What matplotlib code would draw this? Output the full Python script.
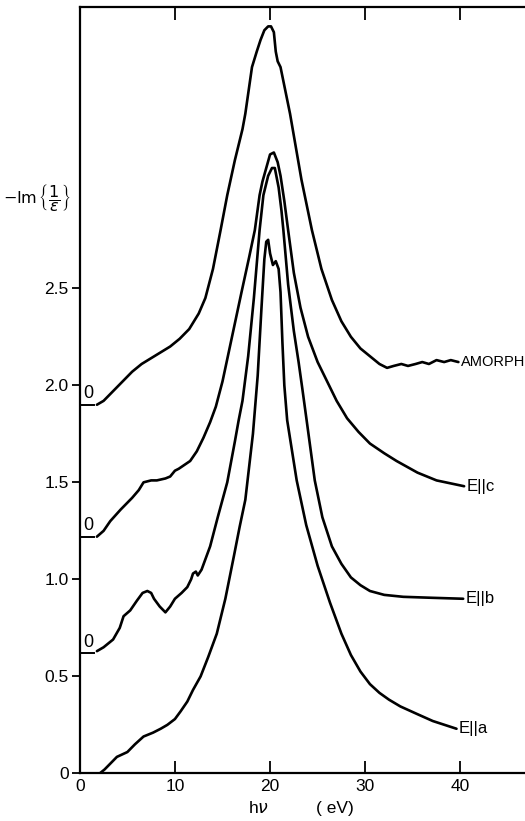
import numpy as np
import matplotlib
matplotlib.use("Agg")
import matplotlib.pyplot as plt

plt.rcParams['font.family'] = ['Liberation Sans', 'DejaVu Sans']
plt.rcParams['mathtext.fontset'] = 'dejavusans'

# curves: photon energy (eV) vs -Im(1/eps), offset curves
amorph_x = [1.8, 2.5, 3.5, 4.5, 5.5, 6.5, 7.5, 8.5, 9.5, 10.5, 11.5, 12.5, 13.2, 14.0, 14.8,
            15.5, 16.3, 17.1, 17.4, 18.1, 18.6, 19.0, 19.4, 19.8, 20.1, 20.4, 20.6, 20.8, 21.1,
            21.6, 22.1, 23.3, 24.4, 25.4, 26.5, 27.5, 28.5, 29.5, 30.5, 31.5, 32.3, 33.0, 33.8,
            34.5, 35.3, 36.0, 36.7, 37.5, 38.3, 39.0, 39.8]
amorph_y = [1.90, 1.92, 1.97, 2.02, 2.07, 2.11, 2.14, 2.17, 2.20, 2.24, 2.29, 2.37, 2.45, 2.60, 2.80,
            2.98, 3.16, 3.32, 3.40, 3.64, 3.72, 3.78, 3.83, 3.85, 3.85, 3.82, 3.72, 3.67, 3.64,
            3.52, 3.40, 3.06, 2.80, 2.60, 2.44, 2.33, 2.25, 2.19, 2.15, 2.11, 2.09, 2.10, 2.11,
            2.10, 2.11, 2.12, 2.11, 2.13, 2.12, 2.13, 2.12]

ellc_x = [1.8, 2.5, 3.2, 4.3, 5.5, 6.2, 6.7, 7.5, 8.1, 9.0, 9.5, 10.0, 10.4, 11.0, 11.6, 12.3,
          13.0, 13.7, 14.3, 15.0, 16.0, 17.0, 17.8, 18.4, 18.9, 19.2, 19.6, 20.0, 20.4, 20.8,
          21.1, 21.5, 21.9, 22.5, 23.2, 24.0, 25.0, 26.0, 27.0, 28.1, 29.3, 30.5, 32.0, 33.3,
          35.5, 37.5, 40.4]
ellc_y = [1.22, 1.25, 1.30, 1.36, 1.42, 1.46, 1.50, 1.51, 1.51, 1.52, 1.53, 1.56, 1.57, 1.59,
          1.61, 1.66, 1.73, 1.81, 1.89, 2.02, 2.25, 2.48, 2.66, 2.80, 2.98, 3.05, 3.12, 3.19,
          3.20, 3.15, 3.08, 2.95, 2.80, 2.58, 2.40, 2.25, 2.12, 2.02, 1.92, 1.83, 1.76, 1.70,
          1.65, 1.61, 1.55, 1.51, 1.48]

ellb_x = [1.8, 2.5, 3.5, 4.2, 4.6, 5.3, 6.0, 6.6, 7.1, 7.5, 7.8, 8.4, 9.0, 9.5, 10.0, 10.7,
          11.3, 11.7, 11.9, 12.2, 12.4, 12.8, 13.7, 14.5, 15.5, 16.3, 16.7, 17.1, 17.7, 18.3,
          18.9, 19.3, 19.8, 20.2, 20.5, 20.9, 21.2, 21.4, 21.9, 22.5, 23.0, 23.4, 23.9, 24.7,
          25.5, 26.5, 27.5, 28.5, 29.5, 30.5, 32.0, 34.0, 37.0, 40.3]
ellb_y = [0.63, 0.65, 0.69, 0.75, 0.81, 0.84, 0.89, 0.93, 0.94, 0.93, 0.90, 0.86, 0.83, 0.86,
          0.90, 0.93, 0.96, 1.00, 1.03, 1.04, 1.02, 1.05, 1.17, 1.32, 1.50, 1.71, 1.82, 1.92,
          2.15, 2.45, 2.80, 2.98, 3.08, 3.12, 3.12, 3.02, 2.90, 2.80, 2.52, 2.28, 2.12, 1.98,
          1.80, 1.51, 1.32, 1.17, 1.08, 1.01, 0.97, 0.94, 0.92, 0.91, 0.905, 0.90]

ella_x = [1.6, 2.1, 2.6, 3.2, 3.9, 5.0, 5.8, 6.7, 7.7, 8.5, 9.2, 10.0, 10.6, 11.3, 11.9, 12.7,
          13.5, 14.4, 15.3, 16.2, 16.8, 17.4, 18.2, 18.7, 19.1, 19.4, 19.6, 19.8, 20.0, 20.3,
          20.6, 20.9, 21.1, 21.3, 21.5, 21.8, 22.8, 23.8, 25.0, 26.3, 27.5, 28.5, 29.5, 30.5,
          31.5, 32.5, 33.7, 35.5, 37.1, 39.6]
ella_y = [0.0, 0.0, 0.02, 0.05, 0.085, 0.11, 0.15, 0.19, 0.21, 0.23, 0.25, 0.28, 0.32, 0.37,
          0.43, 0.50, 0.60, 0.72, 0.90, 1.12, 1.27, 1.41, 1.75, 2.05, 2.40, 2.65, 2.74, 2.75,
          2.68, 2.62, 2.64, 2.60, 2.48, 2.22, 2.00, 1.82, 1.51, 1.28, 1.07, 0.88, 0.72, 0.61,
          0.525, 0.46, 0.415, 0.38, 0.345, 0.305, 0.27, 0.23]

curve_names = ["AMORPH", "E||c", "E||b", "E||a"]
label_sizes = [10.5, 12, 12, 12]
zero_levels = [1.90, 1.22, 0.62]   # offset zeros marked on the axis

xticks = [0, 10, 20, 30, 40]
yticks = [0, 0.5, 1.0, 1.5, 2.0, 2.5]
ytick_labels = ["0", "0.5", "1.0", "1.5", "2.0", "2.5"]

fig = plt.figure(figsize=(5.25, 8.21), dpi=100)
ax = fig.add_axes([0.152, 0.058, 0.848, 0.9335])

lw = 1.9
curves = [(amorph_x, amorph_y), (ellc_x, ellc_y), (ellb_x, ellb_y), (ella_x, ella_y)]
for (cx, cy), name, fs in zip(curves, curve_names, label_sizes):
    ax.plot(cx, cy, color='black', lw=lw, solid_capstyle='round', solid_joinstyle='round')
    ax.text(cx[-1] + 0.25, cy[-1], name, fontsize=fs, va='center', ha='left')

for z in zero_levels:
    ax.plot([0, 1.5], [z, z], color='black', lw=1.4, clip_on=False)
    ax.text(0.85, z + 0.012, "0", fontsize=13, ha='center', va='bottom')

ax.set_xlim(0, 46.8)
ax.set_ylim(0, 3.95)

ax.set_xticks(xticks)
ax.set_xticklabels([str(t) for t in xticks], fontsize=12.5)
ax.set_yticks(yticks)
ax.set_yticklabels(ytick_labels, fontsize=12.5)
ax.tick_params(axis='x', direction='in', length=9, width=1.3, top=True, pad=4)
ax.tick_params(axis='y', direction='out', length=6, width=1.3, pad=2)

for s in ['left', 'bottom', 'top']:
    ax.spines[s].set_linewidth(1.6)
ax.spines['right'].set_visible(False)

ax.text(18.75, -0.18, r"h$\nu$", fontsize=12.5, ha='center', va='center', clip_on=False)
ax.text(26.8, -0.18, "( eV)", fontsize=12.5, ha='center', va='center', clip_on=False)

ax.text(-8.1, 2.97, r"$-\mathrm{Im}\,\left\{\dfrac{1}{\epsilon}\right\}$", fontsize=11.5,
        ha='left', va='center', clip_on=False)

fig.savefig("out.png", dpi=100)
